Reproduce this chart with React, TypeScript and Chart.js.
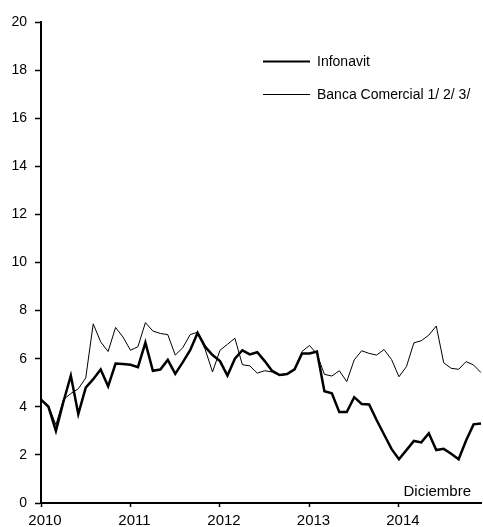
import React, { useEffect, useRef } from "react";
import { Chart, registerables } from "chart.js";

Chart.register(...registerables);

const years = ["2010", "2011", "2012", "2013", "2014"];
const months = ["Ene", "Feb", "Mar", "Abr", "May", "Jun", "Jul", "Ago", "Sep", "Oct", "Nov", "Dic"];
const categories = years.flatMap((y) => months.map((m) => `${m} ${y}`));

const infonavit = [
  4.3, 4.0, 3.0, 4.2, 5.3, 3.7, 4.8, 5.15, 5.55, 4.85, 5.8, 5.78,
  5.75, 5.65, 6.67, 5.5, 5.55, 5.95, 5.37, 5.85, 6.35, 7.07, 6.5, 6.15,
  5.9, 5.3, 6.0, 6.35, 6.18, 6.27, 5.9, 5.49, 5.32, 5.36, 5.56, 6.22,
  6.22, 6.3, 4.65, 4.56, 3.78, 3.78, 4.4, 4.12, 4.1, 3.45, 2.85, 2.25,
  1.82, 2.2, 2.58, 2.52, 2.9, 2.2, 2.25, 2.05, 1.82, 2.6, 3.27, 3.31,
];

const bancaComercial = [
  4.3, 4.05, 3.25, 4.3, 4.55, 4.75, 5.2, 7.45, 6.7, 6.3, 7.3, 6.9,
  6.35, 6.5, 7.5, 7.15, 7.05, 7.0, 6.15, 6.45, 7.0, 7.1, 6.4, 5.45,
  6.35, 6.6, 6.85, 5.75, 5.7, 5.4, 5.5, 5.45, 5.3, 5.35, 5.55, 6.3,
  6.55, 6.2, 5.35, 5.28, 5.5, 5.05, 5.95, 6.33, 6.22, 6.15, 6.38, 5.97,
  5.25, 5.67, 6.66, 6.75, 6.98, 7.36, 5.83, 5.6, 5.56, 5.88, 5.74, 5.42,
];

const seriesLabels = ["Infonavit", "Banca Comercial 1/ 2/ 3/"];
const yMin = 0;
const yMax = 20;
const yStep = 2;
const noteText = "Diciembre";

const FONT = "'Liberation Sans', Arial, Helvetica, sans-serif";

const overlayPlugin = {
  id: "overlay",
  afterDraw(chart: any) {
    const ctx = chart.ctx;
    const { left, right, top, bottom } = chart.chartArea;
    ctx.save();
    ctx.fillStyle = "#000";
    ctx.textBaseline = "middle";
    ctx.textAlign = "left";
    ctx.font = `14px ${FONT}`;
    chart.data.datasets.forEach((ds: any, i: number) => {
      const y = top + 39.5 + i * 33;
      ctx.beginPath();
      ctx.strokeStyle = "#000";
      ctx.lineWidth = i === 0 ? 2 : 1;
      ctx.moveTo(left + 222, y);
      ctx.lineTo(left + 269, y);
      ctx.stroke();
      ctx.fillText(ds.label, left + 276, y + 1);
    });
    ctx.font = `15px ${FONT}`;
    ctx.textAlign = "right";
    ctx.fillText(noteText, right - 10, bottom - 11);
    ctx.restore();
  },
};

export default function App() {
  const canvasRef = useRef<HTMLCanvasElement | null>(null);

  useEffect(() => {
    if (!canvasRef.current) return;
    Chart.defaults.font.family = FONT;
    const chart = new Chart(canvasRef.current, {
      type: "line",
      data: {
        labels: categories,
        datasets: [
          {
            label: seriesLabels[0],
            data: infonavit,
            borderColor: "#000",
            borderWidth: 2.5,
            pointRadius: 0,
            tension: 0,
            fill: false,
          },
          {
            label: seriesLabels[1],
            data: bancaComercial,
            borderColor: "#000",
            borderWidth: 1,
            pointRadius: 0,
            tension: 0,
            fill: false,
          },
        ],
      },
      options: {
        animation: false,
        responsive: false,
        maintainAspectRatio: false,
        layout: { padding: { top: 22, right: 2, left: 0, bottom: 0 } },
        plugins: {
          legend: { display: false },
          tooltip: { enabled: false },
        },
        scales: {
          x: {
            type: "category",
            offset: false,
            afterFit: (scale: any) => {
              scale.height = 24;
              scale.paddingLeft = 0;
              scale.paddingRight = 0;
            },
            grid: {
              display: true,
              drawOnChartArea: false,
              drawTicks: true,
              tickLength: 4,
              tickColor: (c: any) => (c.index % 12 === 0 ? "#000" : "rgba(0,0,0,0)"),
              tickWidth: 1.5,
            },
            border: { display: true, color: "#000", width: 2 },
            ticks: {
              autoSkip: false,
              maxRotation: 0,
              minRotation: 0,
              padding: 5,
              labelOffset: 4,
              color: "#000",
              font: { size: 15, family: FONT },
              callback: (_v: any, i: number) => (i % 12 === 0 ? years[i / 12] : ""),
            },
          },
          y: {
            min: yMin,
            max: yMax,
            afterFit: (scale: any) => {
              scale.width = 41;
            },
            grid: {
              display: true,
              drawOnChartArea: false,
              drawTicks: true,
              tickLength: 6,
              tickColor: "#000",
              tickWidth: 1.5,
            },
            border: { display: true, color: "#000", width: 2 },
            ticks: {
              stepSize: yStep,
              padding: 8,
              color: "#000",
              font: { size: 14, family: FONT },
            },
          },
        },
      },
      plugins: [overlayPlugin],
    });
    return () => chart.destroy();
  }, []);

  return (
    <div style={{ position: "absolute", left: 0, top: 0, width: 483, height: 527, background: "#fff" }}>
      <canvas ref={canvasRef} width={483} height={527} />
    </div>
  );
}
